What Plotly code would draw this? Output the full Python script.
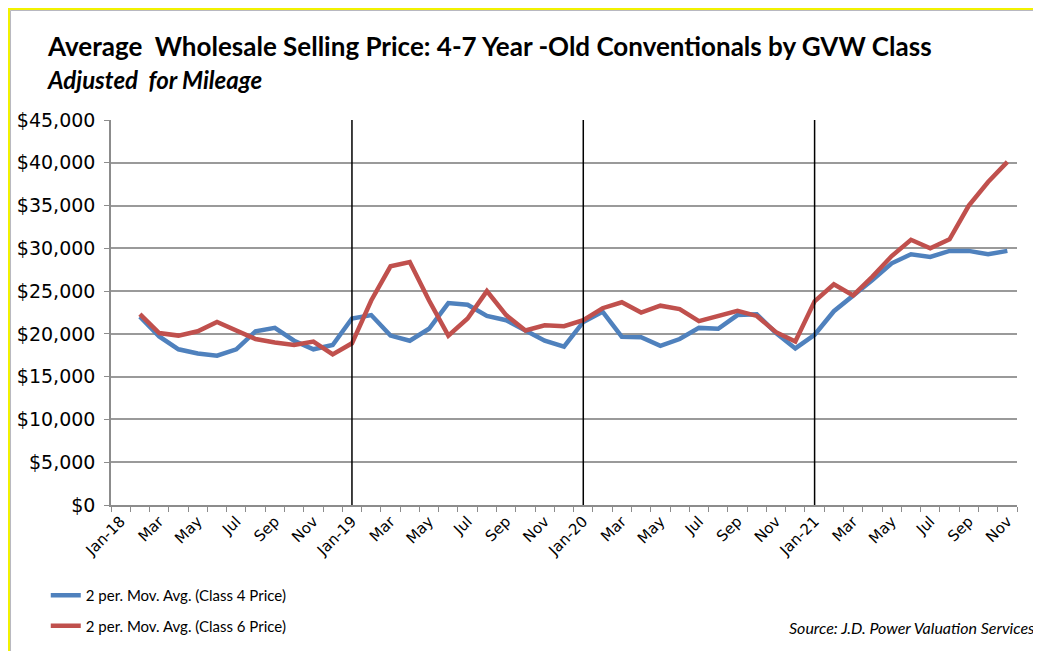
import plotly.graph_objects as go

# monthly categories on the x axis
months = ["Jan-18", "Feb-18", "Mar-18", "Apr-18", "May-18", "Jun-18", "Jul-18", "Aug-18",
          "Sep-18", "Oct-18", "Nov-18", "Dec-18",
          "Jan-19", "Feb-19", "Mar-19", "Apr-19", "May-19", "Jun-19", "Jul-19", "Aug-19",
          "Sep-19", "Oct-19", "Nov-19", "Dec-19",
          "Jan-20", "Feb-20", "Mar-20", "Apr-20", "May-20", "Jun-20", "Jul-20", "Aug-20",
          "Sep-20", "Oct-20", "Nov-20", "Dec-20",
          "Jan-21", "Feb-21", "Mar-21", "Apr-21", "May-21", "Jun-21", "Jul-21", "Aug-21",
          "Sep-21", "Oct-21", "Nov-21"]

# tick labels (every other month shows text)
tick_text = ["Jan-18", "", "Mar", "", "May", "", "Jul", "", "Sep", "", "Nov", "",
             "Jan-19", "", "Mar", "", "May", "", "Jul", "", "Sep", "", "Nov", "",
             "Jan-20", "", "Mar", "", "May", "", "Jul", "", "Sep", "", "Nov", "",
             "Jan-21", "", "Mar", "", "May", "", "Jul", "", "Sep", "", "Nov"]

# 2-period moving averages start at Feb-18
avg_months = months[1:]

class4_price = [22000, 19700, 18200, 17700, 17450, 18200, 20300, 20700, 19200, 18200, 18700,
                21800, 22200, 19800, 19200, 20600, 23600, 23400, 22100, 21600, 20400, 19200, 18500,
                21400, 22600, 19650, 19600, 18600, 19400, 20700, 20600, 22200, 22300, 20100, 18300,
                19900, 22650, 24400, 26300, 28250, 29300, 29000, 29700, 29700, 29300, 29700]

class6_price = [22300, 20100, 19800, 20300, 21400, 20400, 19400, 19000, 18700, 19100, 17600,
                18900, 23900, 27900, 28400, 23900, 19800, 21800, 25000, 22200, 20400, 21000, 20900,
                21600, 23000, 23700, 22500, 23300, 22900, 21500, 22100, 22700, 22100, 20200, 19100,
                23800, 25800, 24500, 26700, 29100, 31000, 30000, 31050, 35000, 37750, 40100]

year_marks = ["Jan-19", "Jan-20", "Jan-21"]

fig = go.Figure()
fig.add_trace(go.Scatter(x=avg_months, y=class4_price, mode="lines",
                         name="2 per. Mov. Avg. (Class 4 Price)",
                         line=dict(color="#4F81BD", width=4.5), legendgroup="a"))
fig.add_trace(go.Scatter(x=avg_months, y=class6_price, mode="lines",
                         name="2 per. Mov. Avg. (Class 6 Price)",
                         line=dict(color="#C0504D", width=4.5), legendgroup="b"))

# vertical year separators
for m in year_marks:
    fig.add_shape(type="line", xref="x", yref="paper", x0=m, x1=m, y0=0, y1=1,
                  line=dict(color="black", width=1.5), layer="above")

# yellow frame around the chart
fig.add_shape(type="rect", xref="paper", yref="paper", x0=-0.1126, x1=1.05, y0=-0.45, y1=1.288,
              line=dict(color="#F2F200", width=2.5), layer="below")
fig.add_shape(type="rect", xref="paper", yref="paper", x0=-0.1109, x1=1.05, y0=-0.45, y1=1.2844,
              line=dict(color="#B8B8C0", width=1), layer="below")

# the page adds an 8px body margin, so everything is placed 8px up/left
fig.update_layout(
    width=1041, height=651,
    margin=dict(l=103, r=32, t=112, b=154, autoexpand=False),
    paper_bgcolor="white", plot_bgcolor="white",
    title=dict(text="<b>Average  Wholesale Selling Price: 4-7 Year -Old Conventionals by GVW Class</b>",
               xref="container", yref="container", x=40 / 1041, xanchor="left",
               y=1 - 39 / 651, yanchor="middle",
               font=dict(family="Lato", size=26, color="black")),
    legend=dict(x=-0.072, y=-0.1922, xanchor="left", yanchor="top",
                orientation="v", tracegroupgap=8,
                font=dict(family="Lato", size=15, color="black"),
                bgcolor="rgba(0,0,0,0)"),
    showlegend=True,
)

fig.add_annotation(text="<b><i>Adjusted  for Mileage</i></b>", xref="paper", yref="paper",
                   x=-0.073, y=1.104, xanchor="left", yanchor="middle", showarrow=False,
                   font=dict(family="Lato", size=24, color="black"))
fig.add_annotation(text="<i>Source: J.D. Power Valuation Services</i>", xref="paper", yref="paper",
                   x=1.022, y=-0.317, xanchor="right", yanchor="middle", showarrow=False,
                   font=dict(family="Lato", size=16, color="black"))

fig.update_xaxes(type="category", categoryorder="array", categoryarray=months,
                 range=[-0.5, len(months) - 0.5],
                 tickmode="array", tickvals=months, ticktext=tick_text,
                 tickson="boundaries", ticks="outside", ticklen=5, tickcolor="#8C8C8C",
                 tickangle=-45, tickfont=dict(family="DejaVu Sans", size=15, color="black"),
                 showline=True, linecolor="#8C8C8C", linewidth=1.5,
                 showgrid=False, zeroline=False)
fig.update_yaxes(range=[0, 45000], dtick=5000, tickformat="$,.0f",
                 ticks="outside", ticklen=5, tickcolor="#8C8C8C", ticklabelstandoff=5,
                 tickfont=dict(family="DejaVu Sans", size=19, color="black"),
                 showline=True, linecolor="#8C8C8C", linewidth=1.5,
                 showgrid=True, gridcolor="#9A9A9A", gridwidth=1.5, zeroline=False)

fig.write_html("out.html")
